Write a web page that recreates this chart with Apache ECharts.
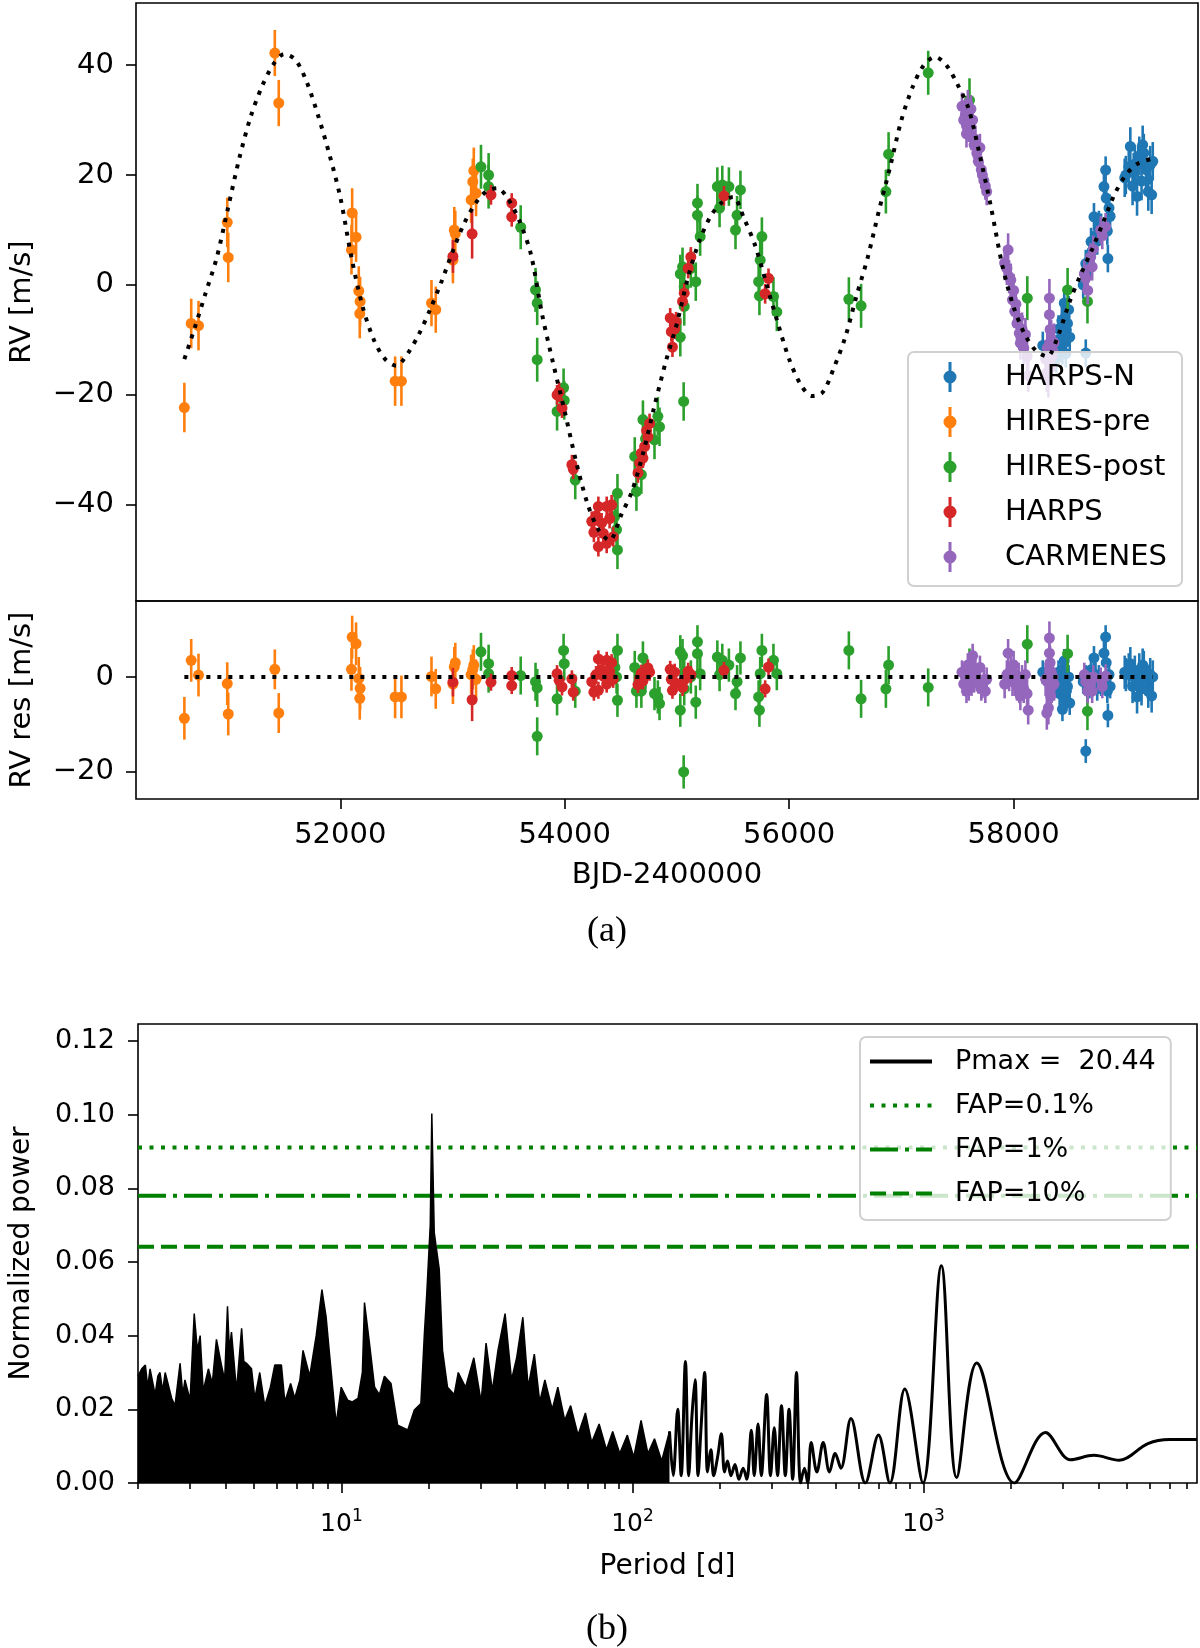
<!DOCTYPE html>
<html>
<head>
<meta charset="utf-8">
<script src="https://cdn.jsdelivr.net/npm/echarts@6/dist/echarts.min.js"></script>
<style>
html, body { margin: 0; padding: 0; background: #fff; }
#main { width: 1200px; height: 1648px; }
</style>
</head>
<body>
<div id="main"></div>
<script>
// rows: [BJD-2400000, RV, error, residual]
var harpsN = [
  [58260,-11.0,2.5,1.0],[58300,-12.0,2.5,0.5],[58380,-13.5,2.5,-1.5],[58395,-10.0,2.5,-1.0],
  [58400,-8.0,2.5,1.0],[58410,-11.5,2.5,-3.5],[58420,-10.0,2.5,-2.0],[58430,-6.5,2.5,1.5],
  [58435,-12.0,2.5,-6.8],[58440,-9.0,2.5,-2.5],[58451,-3.3,2.5,3.4],[58455,-10.5,2.5,-4.5],
  [58460,-5.8,2.5,0.5],[58465,-12.5,2.5,-5.0],[58470,-8.2,2.5,-3.0],[58480,-7.0,2.5,-2.0],
  [58490,-4.5,2.5,0.0],[58500,-9.5,2.5,-5.5],
  [58620,0.0,2.5,-1.0],[58643,-12.4,2.5,-15.6],[58643,3.9,2.5,0.0],[58660,1.8,2.5,-3.0],
  [58675,4.5,2.5,-2.0],[58690,7.9,2.5,1.5],[58700,6.2,2.5,-0.5],[58716,12.4,2.5,4.0],
  [58730,9.0,2.5,0.5],[58745,8.0,2.5,-2.5],[58760,11.0,2.5,0.0],[58780,10.5,2.5,-1.5],
  [58805,17.9,2.5,5.0],[58820,20.9,2.5,8.4],[58825,15.8,2.5,3.0],[58835,9.8,2.5,-3.0],
  [58840,4.8,2.5,-8.1],[58850,14.0,2.5,0.5],[58860,12.5,2.5,-2.0],
  [58990,19.5,3.5,1.0],[59000,20.0,3.5,0.5],[59026,21.5,3.5,1.5],[59040,25.2,3.5,2.8],
  [59060,18.0,3.5,-2.0],[59070,20.5,3.5,0.0],[59080,22.0,3.5,1.0],[59100,16.1,3.5,-4.2],
  [59110,22.0,3.5,-1.0],[59120,23.5,3.5,1.5],[59140,18.9,3.5,-2.5],[59150,25.5,3.5,2.5],
  [59160,24.0,3.5,2.0],[59180,21.0,3.5,-0.5],[59200,17.0,3.5,-3.0],[59217,21.8,3.5,0.5],
  [59230,16.4,3.5,-4.0],[59240,22.5,3.5,0.0]
];
var hiresPre = [
  [50611,-22.3,4.5,-8.7],[50672,-7.0,4.5,3.5],[50737,-7.4,4.5,0.4],[50993,11.4,4.5,-1.4],
  [51002,5.0,4.5,-7.8],[51417,42.2,4.2,1.6],[51452,33.1,4.2,-7.6],[52100,6.4,4.5,1.6],
  [52106,13.1,4.5,8.4],[52141,8.7,4.5,7.0],[52165,-1.1,4.5,-0.3],[52174,-5.2,4.5,-4.5],
  [52177,-3.0,4.5,-2.4],[52489,-17.5,4.5,-4.2],[52545,-17.5,4.5,-4.2],[52813,-3.3,4.2,0.1],
  [52851,-4.5,4.2,-2.5],[53004,4.5,4.2,-1.5],[53016,10.0,4.2,2.1],[53025,9.3,4.2,3.0],
  [53166,15.5,4.2,0.5],[53181,18.8,4.2,1.6],[53190,20.8,4.2,2.5],[53210,16.7,4.2,-0.5]
];
var hiresPost = [
  [53254,21.5,4.0,5.3],[53322,20.0,4.0,2.8],[53322,17.9,4.0,0.7],[53608,10.5,4.0,0.3],
  [53740,-0.9,4.0,-1.0],[53755,-3.3,4.0,-2.3],[53755,-13.6,4.0,-12.5],[53932,-23.0,3.5,-4.6],
  [53990,-18.7,3.5,5.6],[53996,-21.0,3.5,2.8],[54094,-35.5,3.5,-3.0],[54447,-42.1,3.5,2.0],
  [54462,-44.5,3.5,0.0],[54470,-37.9,3.5,5.6],[54470,-48.2,3.5,-4.9],[54624,-31.2,3.5,2.0],
  [54639,-37.6,3.5,-3.0],[54683,-34.5,3.5,-3.0],[54697,-24.5,3.5,4.0],[54720,-28.0,3.5,1.0],
  [54800,-28.2,3.5,-3.5],[54830,-23.9,3.5,-4.2],[54845,-25.8,3.5,-5.6],[55030,2.0,3.5,5.3],
  [55030,-9.5,3.5,-7.0],[55050,3.3,3.5,4.5],[55060,-21.2,3.5,-20.0],[55065,-0.3,3.5,1.0],
  [55065,-3.9,3.5,-2.5],[55124,3.0,3.5,0.0],[55168,0.6,3.5,-5.3],[55183,14.9,3.5,7.4],
  [55183,12.7,3.5,4.9],[55207,8.8,3.5,0.7],[55360,17.9,3.5,4.2],[55380,14.0,3.5,0.5],
  [55404,18.2,3.5,3.5],[55463,17.9,3.5,2.5],[55522,10.0,3.5,-3.5],[55536,12.7,3.5,-1.0],
  [55566,17.3,3.5,4.0],[55728,0.6,3.5,-4.2],[55735,-2.0,3.5,-7.0],[55742,4.5,3.5,0.7],
  [55757,8.8,3.5,5.6],[55860,-2.1,3.5,3.5],[55890,-4.9,3.5,0.7],[56532,-2.6,4.0,5.6],
  [56641,-3.8,4.0,-4.6],[56862,17.0,4.0,-2.5],[56886,23.8,4.0,2.5],[57239,38.6,4.0,-2.2],
  [57607,33.6,4.0,2.0],[58122,-2.4,4.0,6.9],[58481,-0.9,4.0,4.9],[58658,-3.0,4.0,-7.2]
];
var harps = [
  [53004,5.2,3.0,-1.1],[53175,9.3,4.5,-4.8],[53343,16.4,1.8,-1.1],[53528,14.9,1.8,0.3],
  [53528,12.4,1.8,-1.8],[53932,-20.0,1.8,0.7],[53950,-19.5,1.8,-0.7],[53976,-22.4,1.8,-2.1],
  [54064,-32.7,1.8,-0.4],[54076,-33.5,1.8,-3.2],[54241,-43.0,1.8,-1.0],[54260,-45.0,1.8,-3.2],
  [54280,-42.0,1.8,0.5],[54300,-40.3,1.8,3.8],[54300,-47.6,1.8,-2.8],[54329,-43.3,1.8,1.5],
  [54344,-45.2,1.8,0.2],[54374,-40.3,1.8,3.5],[54374,-47.0,1.8,-1.5],[54400,-42.5,1.8,1.2],
  [54418,-40.0,1.8,3.0],[54432,-45.8,1.8,-0.5],[54653,-34.2,1.8,-1.6],[54668,-32.4,1.8,-0.3],
  [54683,-30.6,1.8,0.8],[54697,-31.5,1.8,-0.8],[54712,-29.4,1.8,0.4],[54730,-26.5,1.8,0.5],
  [54741,-27.6,1.8,1.9],[54756,-25.2,1.8,1.0],[54940,-6.0,1.8,1.6],[54950,-8.5,1.8,-0.5],
  [54960,-11.3,1.8,-2.8],[54980,-8.0,1.8,1.0],[54992,-6.7,1.8,-1.3],[55050,-3.0,1.8,-2.2],
  [55065,-1.5,1.8,-0.6],[55100,3.0,1.8,1.2],[55124,5.1,1.8,0.5],[55419,16.2,1.8,1.4],
  [55786,-1.6,1.8,-2.5],[55816,1.2,1.8,2.1]
];
var carmenes = [
  [57540,32.5,2.5,1.0],[57555,30.0,2.5,-1.5],[57570,31.0,2.5,0.0],[57580,29.0,2.5,-1.5],
  [57580,27.5,2.5,-3.0],[57592,33.0,2.5,2.5],[57600,28.5,2.5,-2.5],[57615,29.5,2.5,0.5],
  [57620,32.0,2.5,2.5],[57625,27.0,2.5,-1.5],[57635,30.0,2.5,4.5],[57648,25.5,2.5,-0.8],
  [57660,26.5,2.5,1.5],[57672,24.0,2.5,-0.5],[57685,22.5,2.5,-1.0],[57700,25.0,2.5,2.0],
  [57712,21.0,2.5,-2.5],[57722,20.0,2.5,-2.0],[57735,19.0,2.5,-1.0],[57748,18.0,2.5,-3.0],
  [57760,17.0,2.5,-0.5],
  [57920,4.0,3.0,-1.5],[57940,3.0,3.0,0.5],[57951,6.4,3.0,5.0],[57960,1.5,3.0,0.0],
  [57975,0.9,3.0,1.5],[57990,-2.7,3.0,-1.0],[58000,-1.0,3.0,2.5],[58010,-4.8,3.0,-1.0],
  [58020,-3.5,3.0,0.5],[58030,-7.0,3.0,-2.0],[58045,-6.0,3.0,0.0],[58050,-8.8,3.0,-2.5],
  [58060,-10.6,3.0,-4.0],[58075,-8.0,3.0,-0.5],[58090,-11.5,3.0,-2.5],[58105,-9.0,3.0,0.5],
  [58120,-13.0,3.0,-3.5],[58130,-16.5,3.0,-7.0],
  [58285,-13.5,3.5,-0.5],[58296,-16.0,3.5,-7.6],[58300,-11.5,3.5,-1.0],[58310,-17.0,3.5,-6.5],
  [58319,-2.4,3.5,8.2],[58319,-5.4,3.5,5.0],[58325,-8.1,3.5,3.0],[58330,-15.0,3.5,-4.0],
  [58335,-9.9,3.5,1.0],[58340,-13.0,3.5,-2.0],[58350,-12.0,3.5,0.0],[58360,-10.5,3.5,-1.5],
  [58630,2.0,2.5,0.5],[58643,1.2,2.5,-1.0],[58660,-1.0,2.5,-3.0],[58687,5.1,2.5,-1.5],
  [58700,3.3,2.5,-3.0],[58710,6.5,2.5,0.0],[58776,10.0,2.5,-0.5],[58790,9.0,2.5,-2.0],
  [58820,10.6,2.5,0.2]
];

// fitted model
var modelTime = [50611,50700,50800,50900,51000,51100,51200,51300,51400,51500,51600,51700,51800,51900,
  52000,52100,52200,52300,52400,52500,52600,52700,52800,52900,53000,53100,53200,53300,53400,53500,
  53600,53700,53800,53900,54000,54100,54200,54300,54400,54500,54600,54700,54800,54900,55000,55100,
  55200,55300,55400,55500,55600,55700,55800,55900,56000,56100,56200,56300,56400,56500,56600,56700,
  56800,56900,57000,57100,57200,57300,57400,57500,57600,57700,57800,57900,58000,58100,58200,58300,
  58400,58500,58600,58700,58800,58900,59000,59100,59240];
var modelRv = [-13.5,-8,-1.5,5,14,23,30.5,36,40,42,41,37,31,24,
  16,5,-4,-10,-13.5,-14.7,-12.5,-9,-4.5,0.5,6,11,14.7,17,17.6,15.5,
  11.5,5.5,-5.5,-14.5,-23,-32,-39.6,-44.5,-46.5,-42,-37.5,-30.5,-22,-14,-7,1.5,
  8,12.5,15,16,12,7,0,-7,-13.5,-18,-20.2,-19.5,-15,-9.5,-2,5,
  13.5,21.5,30,36,40,41.5,40,36.5,32,23.5,14,3.5,-4,-9,-12,-13,
  -9,-3,2,6.5,11.5,16.5,20,22,23];

// periodogram, [period (d), normalized power]
var periodDense = [
  [2.0,0.029],[2.06,0.031],[2.12,0.032],[2.16,0.026],[2.2,0.031],[2.29,0.024],[2.34,0.029],
  [2.38,0.030],[2.43,0.025],[2.48,0.030],[2.61,0.023],[2.68,0.021],[2.79,0.0325],[2.85,0.024],
  [2.9,0.028],[3.02,0.0225],[3.12,0.046],[3.2,0.036],[3.27,0.040],[3.35,0.025],[3.49,0.031],
  [3.6,0.027],[3.72,0.039],[3.87,0.032],[3.97,0.028],[4.06,0.048],[4.12,0.036],[4.19,0.041],
  [4.36,0.025],[4.54,0.042],[4.62,0.033],[4.72,0.0325],[4.91,0.031],[5.04,0.023],[5.24,0.030],
  [5.45,0.021],[5.7,0.026],[5.9,0.032],[6.22,0.032],[6.39,0.022],[6.69,0.027],[6.91,0.023],
  [7.2,0.028],[7.38,0.036],[7.78,0.029],[8.19,0.040],[8.57,0.0525],[8.86,0.045],[9.1,0.035],
  [9.59,0.016],[9.98,0.026],[10.5,0.0225],[10.9,0.022],[11.4,0.023],[11.8,0.030],[12.0,0.049],
  [12.5,0.0375],[13.0,0.026],[13.5,0.024],[14.05,0.029],[14.8,0.027],[15.6,0.0157],[16.9,0.0144],
  [17.8,0.0198],[18.75,0.0216],[19.26,0.040],[19.66,0.052],[20.19,0.070],[20.44,0.1003],
  [20.84,0.068],[21.68,0.058],[22.25,0.036],[23.14,0.026],[24.4,0.024],[25.2,0.030],[26.7,0.026],
  [28.5,0.034],[30.2,0.022],[31.4,0.038],[33.0,0.025],[34.5,0.036],[36.5,0.046],[38.4,0.028],
  [40.0,0.034],[42.0,0.045],[43.8,0.026],[46.0,0.035],[48.0,0.022],[50.0,0.028],[53.0,0.020],
  [55.4,0.026],[58.5,0.017],[61.3,0.021],[65.0,0.013],[68.9,0.019],[72.4,0.011],[76.8,0.016],
  [81.4,0.009],[85.5,0.014],[90.4,0.008],[96.0,0.013],[101,0.007],[107,0.017],[113,0.008],
  [119,0.012],[126,0.006],[134,0.014]
];
var periodSparse = [
  [134,0.014],[138,0.002],[143,0.020],[147,0.002],[152,0.033],[156,0.002],[160,0.018],
  [164,0.028],[168,0.002],[172,0.015],[177,0.030],[181,0.003],[186,0.009],[190,0.002],
  [196,0.007],[202,0.0134],[207,0.003],[212,0.006],[218,0.002],[225,0.005],[232,0.001],
  [240,0.004],[247,0.001],[256,0.0143],[262,0.002],[270,0.016],[277,0.002],[289,0.024],
  [298,0.002],[307,0.015],[315,0.002],[325,0.021],[335,0.002],[345,0.020],[355,0.001],
  [366,0.030],[378,0.0],[390,0.004],[400,0.0],[411,0.011],[430,0.003],[452,0.011],
  [475,0.003],[497,0.008],[520,0.004],[563,0.0175],[631,0.0],[700,0.013],[766,0.0],
  [862,0.0255],[995,0.0],[1151,0.059],[1300,0.0015],[1523,0.0326],[2051,0.0],[2624,0.0137],
  [3200,0.0063],[3850,0.0075],[4700,0.0062],[5900,0.0107],[7000,0.0118],[8700,0.0118]
];
var fapNames = ['FAP=0.1%', 'FAP=1%', 'FAP=10%'];
var fapLevels = [0.0911, 0.0780, 0.0641];
var pmaxName = 'Pmax =  20.44';

// tick values
var rvTicks = [-40, -20, 0, 20, 40];
var resTicks = [-20, 0];
var timeTicks = [52000, 54000, 56000, 58000];
var powerTicks = [0, 0.02, 0.04, 0.06, 0.08, 0.10, 0.12];
var periodTicks = [10, 100, 1000];
var periodMinor = [2,3,4,5,6,7,8,9,20,30,40,50,60,70,80,90,200,300,400,500,600,700,800,900,
  2000,3000,4000,5000,6000,7000,8000];

var chart = echarts.init(document.getElementById('main'));
var font = 'DejaVu Sans';
var tickLine = { color: '#000', width: 1.6 };
var noLine = { show: false, onZero: false };

function minusFmt(v) {
  return v < 0 ? '\u2212' + Math.abs(v) : String(v);
}

function errorBarItem(params, api) {
  var t = api.value(0), v = api.value(1), e = api.value(2);
  var c = api.coord([t, v]);
  var hi = api.coord([t, v + e]);
  var lo = api.coord([t, v - e]);
  var color = api.visual('color');
  return {
    type: 'group',
    children: [
      { type: 'line', shape: { x1: c[0], y1: hi[1], x2: c[0], y2: lo[1] },
        style: { stroke: color, lineWidth: 2.6 } },
      { type: 'circle', shape: { cx: c[0], cy: c[1], r: 5.5 }, style: { fill: color } }
    ]
  };
}

function instrumentSeries(name, color, rows, panel) {
  return {
    type: 'custom',
    name: name,
    xAxisIndex: panel,
    yAxisIndex: panel,
    itemStyle: { color: color },
    renderItem: errorBarItem,
    data: rows.map(function (r) { return [r[0], panel === 0 ? r[1] : r[3], r[2]]; }),
    z: 3
  };
}

var instruments = [
  ['HARPS-N', '#1f77b4', harpsN],
  ['HIRES-pre', '#ff7f0e', hiresPre],
  ['HIRES-post', '#2ca02c', hiresPost],
  ['HARPS', '#d62728', harps],
  ['CARMENES', '#9467bd', carmenes]
];

var series = [];
instruments.forEach(function (ins) {
  series.push(instrumentSeries(ins[0], ins[1], ins[2], 0));
  series.push(instrumentSeries(ins[0], ins[1], ins[2], 1));
});

series.push({
  type: 'line', name: 'model', xAxisIndex: 0, yAxisIndex: 0,
  data: modelTime.map(function (t, i) { return [t, modelRv[i]]; }),
  symbol: 'none', smooth: 0.3,
  lineStyle: { color: '#000', width: 4, type: [4, 7], cap: 'butt' }, z: 5
});
series.push({
  type: 'line', name: 'zero', xAxisIndex: 1, yAxisIndex: 1,
  data: [[hiresPre[0][0], 0], [harpsN[harpsN.length - 1][0], 0]],
  symbol: 'none',
  lineStyle: { color: '#000', width: 4, type: [4, 7], cap: 'butt' }, z: 5
});

series.push({
  type: 'line', name: pmaxName, xAxisIndex: 2, yAxisIndex: 2,
  data: periodSparse, symbol: 'none', smooth: 0.35,
  lineStyle: { color: '#000', width: 3 }, itemStyle: { color: '#000' }, z: 3
});
series.push({
  type: 'line', name: pmaxName, xAxisIndex: 2, yAxisIndex: 2,
  data: periodDense, symbol: 'none',
  lineStyle: { color: '#000', width: 1.5 }, itemStyle: { color: '#000' },
  areaStyle: { color: '#000', opacity: 1 }, z: 3
});
var fapDash = [[4, 7.5], [28, 7, 4, 7], [16, 7]];
fapLevels.forEach(function (lv, i) {
  series.push({
    type: 'line', name: fapNames[i], xAxisIndex: 2, yAxisIndex: 2,
    data: [[periodMinor[0], lv], [periodSparse[periodSparse.length - 1][0], lv]],
    symbol: 'none',
    lineStyle: { color: '#008000', width: 4, type: fapDash[i], cap: 'butt' },
    itemStyle: { color: '#008000' }, z: 2
  });
});

var errIcon = 'path://M0,15L0.01,15M79,15L78.99,15M27.5,0H30.5V9H27.5ZM27.5,21H30.5V30H27.5Z' +
  'M29,8.5A6.5,6.5,0,1,1,29,21.5A6.5,6.5,0,1,1,29,8.5Z';

var option = {
  animation: false,
  backgroundColor: '#fff',
  grid: [
    { left: 127, top: 3, width: 1071, height: 598, show: true, borderColor: '#000', borderWidth: 1.6, backgroundColor: 'transparent' },
    { left: 127, top: 601, width: 1071, height: 198, show: true, borderColor: '#000', borderWidth: 1.6, backgroundColor: 'transparent' },
    { left: 129, top: 1024, width: 1068, height: 459, show: true, borderColor: '#000', borderWidth: 1.6, backgroundColor: 'transparent' }
  ],
  xAxis: [
    { gridIndex: 0, type: 'value', min: 50180, max: 59643, show: false, axisLine: noLine },
    {
      gridIndex: 1, type: 'value', min: 50180, max: 59643, position: 'bottom',
      axisLine: noLine, splitLine: { show: false },
      axisTick: { show: true, length: 10, customValues: timeTicks, lineStyle: tickLine },
      axisLabel: { customValues: timeTicks, fontSize: 29, fontFamily: font, color: '#000', margin: 22,
        formatter: function (v) { return String(v); } },
      name: 'BJD-2400000', nameLocation: 'middle', nameGap: 62,
      nameTextStyle: { fontSize: 29, fontFamily: font, color: '#000' }
    },
    {
      gridIndex: 2, type: 'log', logBase: 10, min: 2, max: 8700, position: 'bottom',
      axisLine: noLine, splitLine: { show: false }, minorTick: { show: false },
      axisTick: { show: true, length: 10, customValues: periodTicks, lineStyle: tickLine },
      axisLabel: {
        customValues: periodTicks, margin: 25,
        formatter: function (v) { return '{b|10}{s|' + Math.round(Math.log10(v)) + '}'; },
        rich: {
          b: { fontSize: 25, fontFamily: font, color: '#000', verticalAlign: 'bottom' },
          s: { fontSize: 17, fontFamily: font, color: '#000', verticalAlign: 'bottom', padding: [0, 0, 12, 0] }
        }
      },
      name: 'Period [d]', nameLocation: 'middle', nameGap: 70,
      nameTextStyle: { fontSize: 28, fontFamily: font, color: '#000' }
    },
    {
      gridIndex: 2, type: 'log', logBase: 10, min: 2, max: 8700, position: 'bottom', offset: 0,
      axisLine: noLine, splitLine: { show: false },
      axisTick: { show: true, length: 6, customValues: periodMinor, lineStyle: tickLine },
      axisLabel: { show: false }
    }
  ],
  yAxis: [
    {
      gridIndex: 0, type: 'value', min: -57.5, max: 51.3,
      axisLine: noLine, splitLine: { show: false },
      axisTick: { show: true, length: 10, customValues: rvTicks, lineStyle: tickLine },
      axisLabel: { customValues: rvTicks, fontSize: 29, fontFamily: font, color: '#000', margin: 22, formatter: minusFmt },
      name: 'RV [m/s]', nameLocation: 'middle', nameGap: 99,
      nameTextStyle: { fontSize: 29, fontFamily: font, color: '#000' }
    },
    {
      gridIndex: 1, type: 'value', min: -25.7, max: 16,
      axisLine: noLine, splitLine: { show: false },
      axisTick: { show: true, length: 10, customValues: resTicks, lineStyle: tickLine },
      axisLabel: { customValues: resTicks, fontSize: 29, fontFamily: font, color: '#000', margin: 22, formatter: minusFmt },
      name: 'RV res [m/s]', nameLocation: 'middle', nameGap: 99,
      nameTextStyle: { fontSize: 29, fontFamily: font, color: '#000' }
    },
    {
      gridIndex: 2, type: 'value', min: 0, max: 0.1246,
      axisLine: noLine, splitLine: { show: false },
      axisTick: { show: true, length: 10, customValues: powerTicks, lineStyle: tickLine },
      axisLabel: {
        customValues: powerTicks, fontSize: 27, fontFamily: font, color: '#000', margin: 23,
        formatter: function (v) { return v.toFixed(2); }
      },
      name: 'Normalized power', nameLocation: 'middle', nameGap: 102,
      nameTextStyle: { fontSize: 28, fontFamily: font, color: '#000' }
    }
  ],
  legend: [
    {
      data: instruments.map(function (ins) { return ins[0]; }),
      orient: 'vertical', left: 908, top: 352,
      padding: [10, 15, 14, 13], itemWidth: 79, itemHeight: 30, itemGap: 15,
      icon: errIcon,
      backgroundColor: 'rgba(255,255,255,0.8)', borderColor: '#d0d0d0', borderWidth: 2, borderRadius: 6,
      textStyle: { fontSize: 29, fontFamily: font, color: '#000' }
    },
    {
      data: [pmaxName].concat(fapNames),
      orient: 'vertical', left: 860, top: 1037,
      padding: [11, 15, 13, 8], itemWidth: 62, itemHeight: 14, itemGap: 17,
      itemStyle: { opacity: 0 },
      lineStyle: { width: 4 },
      backgroundColor: 'rgba(255,255,255,0.8)', borderColor: '#d0d0d0', borderWidth: 2, borderRadius: 6,
      textStyle: { fontSize: 27, fontFamily: font, color: '#000', padding: [0, 0, 0, 18] }
    }
  ],
  graphic: [
    { type: 'text', x: 607, y: 932, style: { text: '(a)', font: '36px "Liberation Serif"', fill: '#000', align: 'center', verticalAlign: 'middle' } },
    { type: 'text', x: 607, y: 1630, style: { text: '(b)', font: '36px "Liberation Serif"', fill: '#000', align: 'center', verticalAlign: 'middle' } }
  ],
  series: series
};

chart.setOption(option);
</script>
</body>
</html>
